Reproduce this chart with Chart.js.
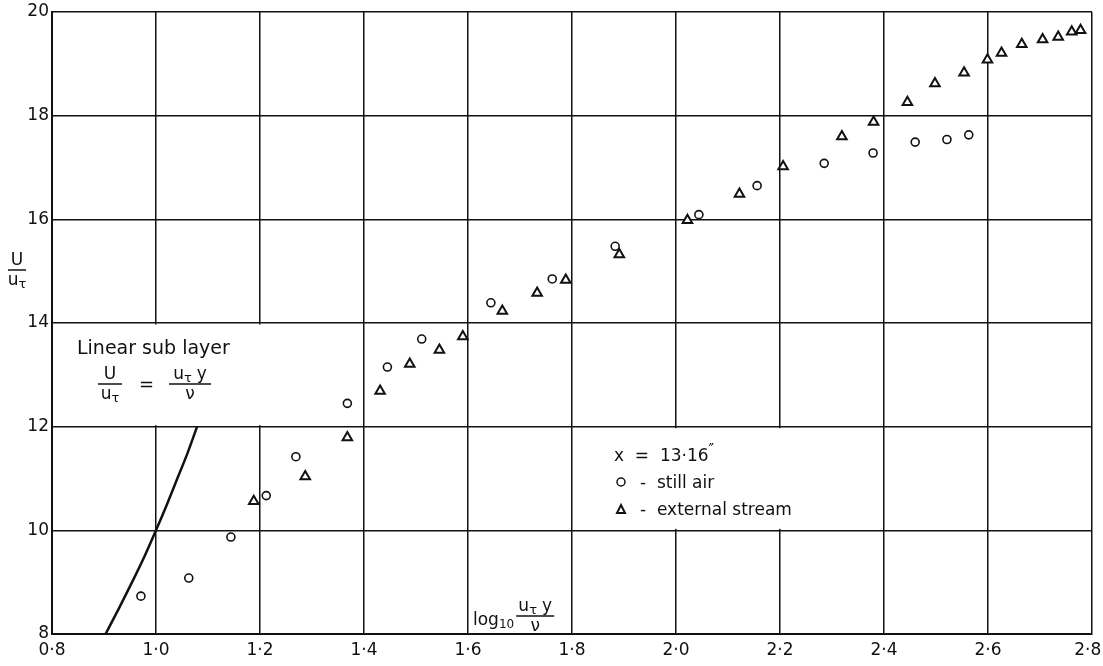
<!DOCTYPE html>
<html>
<head>
<meta charset="utf-8">
<script src="https://cdn.jsdelivr.net/npm/chart.js@4"></script>
<style>
  body { margin: 0; background: #fff; }
  #wrap { width: 1103px; height: 666px; }
</style>
</head>
<body>
<div id="wrap"><canvas id="chart" width="1103" height="666"></canvas></div>
<script>
// values (x = log10(u_tau y / nu), y = U / u_tau)
const stillAirX = [0.971, 1.063, 1.144, 1.212, 1.269, 1.368, 1.445, 1.511, 1.644, 1.762, 1.883, 2.044, 2.156, 2.285, 2.379, 2.460, 2.521, 2.563];
const stillAirY = [8.73, 9.08, 9.87, 10.67, 11.42, 12.45, 13.15, 13.69, 14.39, 14.85, 15.48, 16.09, 16.65, 17.08, 17.28, 17.49, 17.54, 17.63];

const externalX = [1.188, 1.287, 1.368, 1.431, 1.488, 1.545, 1.590, 1.666, 1.733, 1.788, 1.891, 2.022, 2.122, 2.206, 2.319, 2.380, 2.445, 2.498, 2.554, 2.599, 2.626, 2.665, 2.705, 2.735, 2.761, 2.778];
const externalY = [10.56, 11.04, 11.79, 12.69, 13.21, 13.48, 13.74, 14.23, 14.58, 14.83, 15.32, 15.98, 16.49, 17.02, 17.60, 17.88, 18.26, 18.62, 18.83, 19.08, 19.21, 19.38, 19.47, 19.52, 19.62, 19.65];

// linear sub layer U/u_tau = u_tau y / nu
const sublayerX = [0.903, 0.929, 0.954, 0.978, 1.0, 1.021, 1.041, 1.061, 1.079];
const sublayerY = [8, 8.5, 9, 9.5, 10, 10.5, 11, 11.5, 12];

const xTicks = [0.8, 1.0, 1.2, 1.4, 1.6, 1.8, 2.0, 2.2, 2.4, 2.6, 2.8];
const yTicks = [8, 10, 12, 14, 16, 18, 20];

const FONT = '"DejaVu Sans", sans-serif';
const INK = '#111';

function pts(xs, ys) {
  return xs.map((x, i) => ({ x: x, y: ys[i] }));
}

// draw a run of text pieces, some of them sub/superscript
function drawRich(ctx, parts, x, y) {
  let cx = x;
  parts.forEach(p => {
    ctx.font = (p.size || 17) + 'px ' + FONT;
    ctx.fillText(p.t, cx, y + (p.dy || 0));
    cx += ctx.measureText(p.t).width + (p.gap || 0);
  });
  return cx;
}

function richWidth(ctx, parts) {
  let w = 0;
  parts.forEach(p => {
    ctx.font = (p.size || 17) + 'px ' + FONT;
    w += ctx.measureText(p.t).width + (p.gap || 0);
  });
  return w;
}

// fraction centred on cx, bar at y
function drawFrac(ctx, top, bottom, cx, y, barW) {
  const wt = richWidth(ctx, top);
  const wb = richWidth(ctx, bottom);
  const w = barW || Math.max(wt, wb) + 4;
  drawRich(ctx, top, cx - wt / 2, y - 5);
  drawRich(ctx, bottom, cx - wb / 2, y + 15);
  ctx.beginPath();
  ctx.lineWidth = 1.5;
  ctx.moveTo(cx - w / 2, y);
  ctx.lineTo(cx + w / 2, y);
  ctx.stroke();
}

const uTau = [{ t: 'u', size: 17 }, { t: 'τ', size: 13, dy: 3 }];
const uTauY = [{ t: 'u', size: 17 }, { t: 'τ', size: 13, dy: 3, gap: 5 }, { t: 'y', size: 17 }];
const nu = [{ t: 'ν', size: 17 }];

const overlay = {
  id: 'overlay',
  beforeDatasetsDraw(chart) {
    // white label boxes that hide the grid behind the texts
    const { ctx, scales: { x, y } } = chart;
    ctx.save();
    ctx.fillStyle = '#fff';
    ctx.fillRect(x.getPixelForValue(0.8) + 2, y.getPixelForValue(14) + 1.5,
      x.getPixelForValue(1.34) - x.getPixelForValue(0.8) - 2, y.getPixelForValue(12) - y.getPixelForValue(14) - 3);
    ctx.fillRect(x.getPixelForValue(1.8) + 2, y.getPixelForValue(12) + 1.5,
      x.getPixelForValue(2.34) - x.getPixelForValue(1.8) - 2, y.getPixelForValue(10) - y.getPixelForValue(12) - 3);
    ctx.restore();
  },
  afterDraw(chart) {
    const { ctx } = chart;
    ctx.save();
    ctx.fillStyle = INK;
    ctx.strokeStyle = INK;
    ctx.textBaseline = 'alphabetic';
    ctx.textAlign = 'left';

    // y-axis title
    drawFrac(ctx, [{ t: 'U', size: 17 }], uTau, 17, 270, 18);

    // linear sub layer note
    ctx.font = '19px ' + FONT;
    ctx.fillText('Linear sub layer', 77, 354);
    drawFrac(ctx, [{ t: 'U', size: 17 }], uTau, 110, 384, 24);
    ctx.font = '18px ' + FONT;
    ctx.fillText('=', 139, 390);
    drawFrac(ctx, uTauY, nu, 190, 384, 42);

    // legend note
    drawRich(ctx, [{ t: 'x  =  13·16', size: 17 }, { t: '″', size: 15, dy: -6 }], 614, 461);
    ctx.font = '17px ' + FONT;
    ctx.fillText('-  still air', 640, 488);
    ctx.fillText('-  external stream', 640, 515);
    ctx.lineWidth = 1.5;
    ctx.beginPath();
    ctx.arc(621, 482, 4, 0, Math.PI * 2);
    ctx.stroke();
    ctx.lineWidth = 2;
    ctx.beginPath();
    ctx.moveTo(617, 513);
    ctx.lineTo(625, 513);
    ctx.lineTo(621, 505);
    ctx.closePath();
    ctx.stroke();

    // x-axis title
    const end = drawRich(ctx, [{ t: 'log', size: 17 }, { t: '10', size: 12, dy: 3 }], 473, 625);
    drawFrac(ctx, uTauY, nu, end + 21, 616, 38);
    ctx.restore();
  }
};

const ctx = document.getElementById('chart').getContext('2d');
new Chart(ctx, {
  type: 'scatter',
  data: {
    datasets: [
      {
        label: 'linear sub layer',
        data: pts(sublayerX, sublayerY),
        showLine: true,
        borderColor: INK,
        borderWidth: 2.5,
        pointRadius: 0,
        cubicInterpolationMode: 'monotone'
      },
      {
        label: 'still air',
        data: pts(stillAirX, stillAirY),
        pointStyle: 'circle',
        pointRadius: 4,
        borderColor: INK,
        borderWidth: 1.6,
        backgroundColor: '#fff'
      },
      {
        label: 'external stream',
        data: pts(externalX, externalY),
        pointStyle: 'triangle',
        pointRadius: 5.5,
        borderColor: INK,
        borderWidth: 2,
        backgroundColor: '#fff'
      }
    ]
  },
  options: {
    responsive: false,
    animation: false,
    layout: { padding: { top: 12, right: 11, left: 0, bottom: 0 } },
    plugins: {
      legend: { display: false },
      tooltip: { enabled: false }
    },
    scales: {
      x: {
        type: 'linear',
        min: 0.8,
        max: 2.8,
        afterBuildTicks: s => { s.ticks = xTicks.map(v => ({ value: v })); },
        afterFit: s => { s.height = 32; s.paddingLeft = 0; s.paddingRight = 0; },
        grid: { color: INK, lineWidth: 1.5, drawTicks: false },
        border: { color: INK, width: 2 },
        ticks: {
          color: INK,
          padding: 6,
          font: { family: FONT, size: 17 },
          maxRotation: 0,
          // trailing space keeps the last label inside the canvas
          callback: v => v.toFixed(1).replace('.', '·') + (v >= 2.79 ? '\u2002' : '')
        }
      },
      y: {
        type: 'linear',
        min: 8,
        max: 20,
        afterBuildTicks: s => { s.ticks = yTicks.map(v => ({ value: v })); },
        afterFit: s => { s.width = 52; s.paddingTop = 0; s.paddingBottom = 0; },
        grid: { color: INK, lineWidth: 1.5, drawTicks: false },
        border: { color: INK, width: 2 },
        ticks: {
          color: INK,
          padding: 3,
          font: { family: FONT, size: 17 },
          callback: v => String(v)
        }
      }
    }
  },
  plugins: [overlay]
});
</script>
</body>
</html>
